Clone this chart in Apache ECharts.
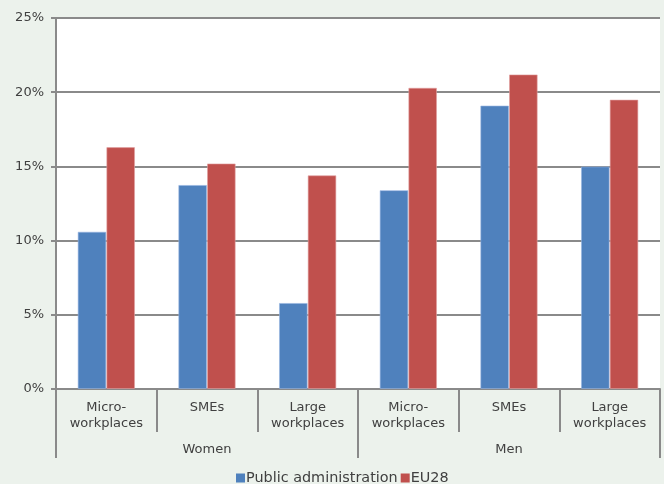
<!DOCTYPE html>
<html>
<head>
<meta charset="utf-8">
<script src="https://cdn.jsdelivr.net/npm/echarts@6/dist/echarts.min.js"></script>
<style>
  html, body { margin: 0; padding: 0; background: #ecf2ec; }
  #chart { width: 664px; height: 484px; }
</style>
</head>
<body>
<div id="chart"></div>
<script>
// Workplace size categories, grouped by sex
const subCategories = ['Micro-\nworkplaces', 'SMEs', 'Large\nworkplaces', 'Micro-\nworkplaces', 'SMEs', 'Large\nworkplaces'];
const groups = ['Women', 'Men'];
const seriesNames = ['Public administration', 'EU28'];

// Shares in percent
const publicAdmin = [10.6, 13.75, 5.8, 13.4, 19.1, 15.0];
const eu28 = [16.3, 15.2, 14.4, 20.3, 21.2, 19.5];

// Value axis ticks (percent)
const yTicks = [0, 5, 10, 15, 20, 25];

const lineGray = '#8a8a8a';
const textGray = '#404040';
const font = 'DejaVu Sans';

const chart = echarts.init(document.getElementById('chart'), null, { renderer: 'canvas' });

chart.setOption({
  backgroundColor: '#ecf2ec',
  animation: false,
  textStyle: { fontFamily: font },
  grid: {
    left: 56, right: 4, top: 18, bottom: 95,
    show: true, backgroundColor: '#ffffff', borderWidth: 0
  },
  legend: {
    data: seriesNames,
    left: 231,
    top: 466,
    icon: 'rect',
    itemWidth: 9,
    itemHeight: 9,
    itemGap: 3,
    itemStyle: { borderWidth: 0 },
    textStyle: { fontFamily: font, fontSize: 14.4, color: textGray, padding: [0, 0, 0, -4] }
  },
  xAxis: [
    {
      type: 'category',
      data: subCategories,
      position: 'bottom',
      axisLine: { show: true, lineStyle: { color: lineGray, width: 2 } },
      axisTick: { show: true, interval: 0, length: 43, lineStyle: { color: lineGray, width: 2 } },
      axisLabel: {
        interval: 0, margin: 11, fontSize: 13, lineHeight: 16,
        color: textGray, fontFamily: font
      }
    },
    {
      type: 'category',
      data: groups,
      position: 'bottom',
      axisLine: { show: false },
      axisTick: { show: true, interval: 0, length: 69, lineStyle: { color: lineGray, width: 2 } },
      axisLabel: { interval: 0, margin: 54, fontSize: 13, color: textGray, fontFamily: font }
    }
  ],
  yAxis: {
    type: 'value',
    min: yTicks[0],
    max: yTicks[yTicks.length - 1],
    interval: yTicks[1] - yTicks[0],
    axisLine: { show: true, lineStyle: { color: lineGray, width: 2 } },
    axisTick: { show: true, length: 5, lineStyle: { color: lineGray, width: 2 } },
    axisLabel: {
      formatter: '{value}%', margin: 12, fontSize: 13,
      color: textGray, fontFamily: font
    },
    splitLine: { show: true, lineStyle: { color: lineGray, width: 2 } }
  },
  series: [
    {
      name: seriesNames[0],
      type: 'bar',
      data: publicAdmin,
      barGap: '0%',
      barCategoryGap: '43%',
      itemStyle: { color: '#4f81bd', borderColor: 'rgba(150,180,225,0.6)', borderWidth: 1 }
    },
    {
      name: seriesNames[1],
      type: 'bar',
      data: eu28,
      barGap: '0%',
      barCategoryGap: '43%',
      itemStyle: { color: '#c0504d', borderColor: 'rgba(225,160,160,0.6)', borderWidth: 1 }
    }
  ]
});
</script>
</body>
</html>
